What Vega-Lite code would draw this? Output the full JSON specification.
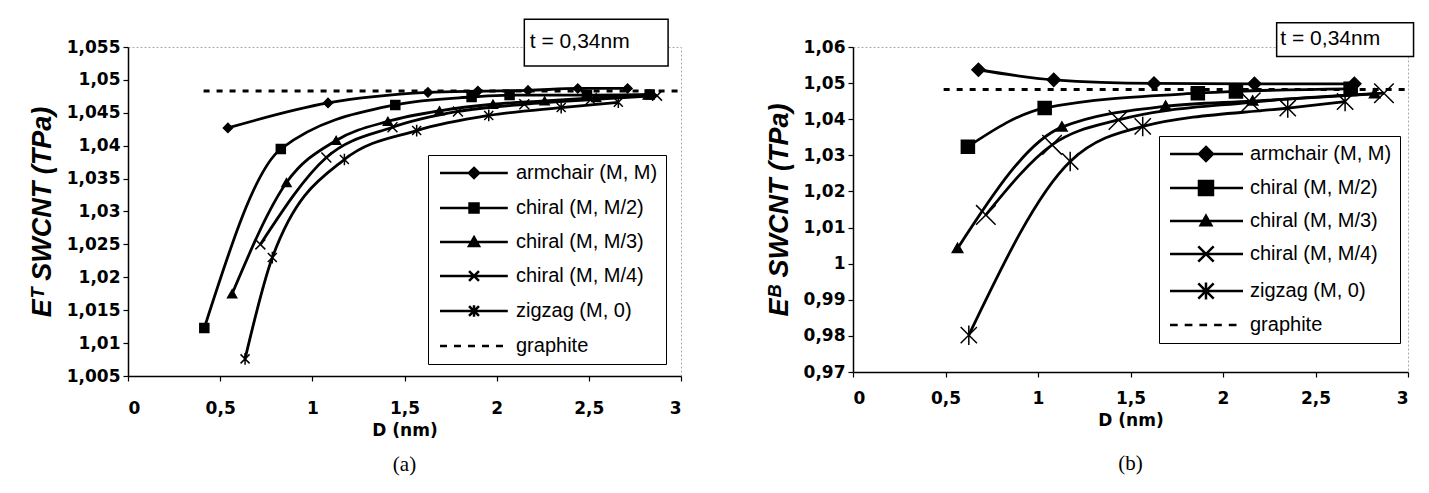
{
  "$schema": "https://vega.github.io/schema/vega-lite/v6.json",
  "padding": {"left": 27, "top": 18, "right": 5, "bottom": 5},
  "background": "white",
  "spacing": 76,
  "resolve": {"scale": {"shape": "independent"}, "legend": {"shape": "independent"}},
  "config": {
    "view": {"stroke": "#aaaaaa", "strokeWidth": 1, "strokeDash": [2, 2]},
    "axis": {
      "domainColor": "black", "domainWidth": 1.5, "tickColor": "black", "tickSize": 5, "tickWidth": 1.2,
      "labelFont": "DejaVu Sans", "labelFontSize": 17, "labelFontWeight": "bold", "labelColor": "black", "labelOverlap": false,
      "titleFont": "Liberation Sans", "titleColor": "black", "grid": false
    },
    "title": {"font": "Liberation Serif", "fontSize": 21, "fontWeight": "normal", "color": "black", "orient": "bottom"}
  },
  "datasets": {
    "a": [
      {"series": "armchair (M, M)", "D": 0.542, "E": 1.0427},
      {"series": "armchair (M, M)", "D": 1.085, "E": 1.0465},
      {"series": "armchair (M, M)", "D": 1.627, "E": 1.0481},
      {"series": "armchair (M, M)", "D": 1.898, "E": 1.0483},
      {"series": "armchair (M, M)", "D": 2.17, "E": 1.0484},
      {"series": "armchair (M, M)", "D": 2.44, "E": 1.0487},
      {"series": "armchair (M, M)", "D": 2.71, "E": 1.0487},
      {"series": "chiral (M, M/2)", "D": 0.414, "E": 1.0123},
      {"series": "chiral (M, M/2)", "D": 0.829, "E": 1.0395},
      {"series": "chiral (M, M/2)", "D": 1.45, "E": 1.0462},
      {"series": "chiral (M, M/2)", "D": 1.864, "E": 1.0474},
      {"series": "chiral (M, M/2)", "D": 2.07, "E": 1.0477},
      {"series": "chiral (M, M/2)", "D": 2.49, "E": 1.0477},
      {"series": "chiral (M, M/2)", "D": 2.83, "E": 1.0478},
      {"series": "chiral (M, M/3)", "D": 0.565, "E": 1.0175},
      {"series": "chiral (M, M/3)", "D": 0.86, "E": 1.0344},
      {"series": "chiral (M, M/3)", "D": 1.129, "E": 1.0408},
      {"series": "chiral (M, M/3)", "D": 1.41, "E": 1.0437},
      {"series": "chiral (M, M/3)", "D": 1.69, "E": 1.0453},
      {"series": "chiral (M, M/3)", "D": 1.98, "E": 1.0463},
      {"series": "chiral (M, M/3)", "D": 2.26, "E": 1.0468},
      {"series": "chiral (M, M/3)", "D": 2.54, "E": 1.0473},
      {"series": "chiral (M, M/3)", "D": 2.82, "E": 1.0477},
      {"series": "chiral (M, M/4)", "D": 0.718, "E": 1.025},
      {"series": "chiral (M, M/4)", "D": 1.076, "E": 1.0382},
      {"series": "chiral (M, M/4)", "D": 1.435, "E": 1.0428},
      {"series": "chiral (M, M/4)", "D": 1.79, "E": 1.0452},
      {"series": "chiral (M, M/4)", "D": 2.15, "E": 1.0463},
      {"series": "chiral (M, M/4)", "D": 2.51, "E": 1.047},
      {"series": "chiral (M, M/4)", "D": 2.87, "E": 1.0476},
      {"series": "zigzag (M, 0)", "D": 0.635, "E": 1.0076},
      {"series": "zigzag (M, 0)", "D": 0.783, "E": 1.023},
      {"series": "zigzag (M, 0)", "D": 1.174, "E": 1.0379},
      {"series": "zigzag (M, 0)", "D": 1.566, "E": 1.0423},
      {"series": "zigzag (M, 0)", "D": 1.957, "E": 1.0446},
      {"series": "zigzag (M, 0)", "D": 2.35, "E": 1.0458},
      {"series": "zigzag (M, 0)", "D": 2.66, "E": 1.0466},
      {"series": "graphite", "D": 0.41, "E": 1.0483},
      {"series": "graphite", "D": 3.0, "E": 1.0483}
    ],
    "b": [
      {"series": "armchair (M, M)", "D": 0.678, "E": 1.0537},
      {"series": "armchair (M, M)", "D": 1.085, "E": 1.0509},
      {"series": "armchair (M, M)", "D": 1.627, "E": 1.0499},
      {"series": "armchair (M, M)", "D": 2.17, "E": 1.0498},
      {"series": "armchair (M, M)", "D": 2.71, "E": 1.0498},
      {"series": "chiral (M, M/2)", "D": 0.621, "E": 1.0324},
      {"series": "chiral (M, M/2)", "D": 1.036, "E": 1.0431},
      {"series": "chiral (M, M/2)", "D": 1.864, "E": 1.0472},
      {"series": "chiral (M, M/2)", "D": 2.07, "E": 1.0477},
      {"series": "chiral (M, M/2)", "D": 2.69, "E": 1.0484},
      {"series": "chiral (M, M/3)", "D": 0.565, "E": 1.0042},
      {"series": "chiral (M, M/3)", "D": 1.129, "E": 1.0378},
      {"series": "chiral (M, M/3)", "D": 1.69, "E": 1.0436},
      {"series": "chiral (M, M/3)", "D": 2.16, "E": 1.045},
      {"series": "chiral (M, M/3)", "D": 2.82, "E": 1.047},
      {"series": "chiral (M, M/4)", "D": 0.718, "E": 1.0135},
      {"series": "chiral (M, M/4)", "D": 1.076, "E": 1.0329},
      {"series": "chiral (M, M/4)", "D": 1.435, "E": 1.0398},
      {"series": "chiral (M, M/4)", "D": 2.15, "E": 1.0447},
      {"series": "chiral (M, M/4)", "D": 2.87, "E": 1.0472},
      {"series": "zigzag (M, 0)", "D": 0.626, "E": 0.9802},
      {"series": "zigzag (M, 0)", "D": 1.174, "E": 1.0283},
      {"series": "zigzag (M, 0)", "D": 1.566, "E": 1.038},
      {"series": "zigzag (M, 0)", "D": 2.35, "E": 1.0431},
      {"series": "zigzag (M, 0)", "D": 2.66, "E": 1.0449},
      {"series": "graphite", "D": 0.49, "E": 1.0482},
      {"series": "graphite", "D": 3.0, "E": 1.0482}
    ],
    "ta": [{"label": "t = 0,34nm", "x1": 2.15, "x2": 2.93, "y1": 1.0521, "y2": 1.0592, "tx": 2.18, "ty": 1.0557}],
    "tb": [{"label": "t = 0,34nm", "x1": 2.29, "x2": 3.03, "y1": 1.0574, "y2": 1.0667, "tx": 2.31, "ty": 1.0621}]
  },
  "hconcat": [
    {
      "width": 553,
      "height": 329,
      "title": {"text": "(a)", "offset": 16},
      "resolve": {"scale": {"shape": "independent"}},
      "layer": [
        {
          "data": {"name": "a"},
          "transform": [{"filter": "datum.series !== 'graphite'"}],
          "mark": {"type": "line", "interpolate": "monotone", "strokeWidth": 2.8, "color": "black"},
          "encoding": {
            "x": {"field": "D", "type": "quantitative", "scale": {"domain": [0, 3], "nice": false, "zero": false},
                  "axis": {"values": [0, 0.5, 1, 1.5, 2, 2.5, 3], "tickCount": 30, "labelOverlap": false, "labelExpr": "replace(format(datum.value, '.1~f'), '.', ',')", "labelPadding": 19, "title": "D (nm)", "titleFont": "DejaVu Sans", "titleFontSize": 17, "titleFontWeight": "bold", "titlePadding": 6}},
            "y": {"field": "E", "type": "quantitative", "scale": {"domain": [1.005, 1.055], "nice": false, "zero": false},
                  "axis": {"values": [1.005, 1.01, 1.015, 1.02, 1.025, 1.03, 1.035, 1.04, 1.045, 1.05, 1.055], "tickCount": 30, "labelOverlap": false, "labelExpr": "replace(format(datum.value, '.3~f'), '.', ',')", "labelPadding": 3, "title": "Eᵀ SWCNT (TPa)", "titleFontSize": 27, "titleFontWeight": "bold", "titleFontStyle": "italic", "titlePadding": 10}},
            "detail": {"field": "series"}
          }
        },
        {
          "data": {"name": "a"},
          "transform": [{"filter": "datum.series === 'graphite'"}],
          "mark": {"type": "line", "strokeWidth": 3, "strokeDash": [6, 7], "color": "black"},
          "encoding": {
            "x": {"field": "D", "type": "quantitative"},
            "y": {"field": "E", "type": "quantitative"}
          }
        },
        {
          "data": {"name": "a"},
          "transform": [{"filter": "datum.series !== 'graphite'"}],
          "mark": {"type": "point", "filled": true, "fill": "black", "stroke": "black", "strokeWidth": 1.5, "size": 81, "opacity": 1},
          "encoding": {
            "x": {"field": "D", "type": "quantitative"},
            "y": {"field": "E", "type": "quantitative"},
            "shape": {
              "field": "series",
              "scale": {"domain": ["armchair (M, M)", "chiral (M, M/2)", "chiral (M, M/3)", "chiral (M, M/4)", "zigzag (M, 0)", "graphite"],
                        "range": ["diamond", "square", "triangle-up", "M-1.1,-1.1L1.1,1.1M1.1,-1.1L-1.1,1.1", "M-1,-1L1,1M1,-1L-1,1M0,-1.3L0,1.3", "circle"]},
              "legend": null
            }
          }
        },
        {
          "data": {"name": "a"},
          "transform": [{"filter": "datum.D < 1"}],
          "mark": {"type": "point", "filled": false, "color": "black", "strokeWidth": 2.5, "size": 144, "opacity": 0},
          "encoding": {
            "x": {"field": "D", "type": "quantitative"},
            "y": {"field": "E", "type": "quantitative"},
            "shape": {
              "field": "series",
              "scale": {"domain": ["armchair (M, M)", "chiral (M, M/2)", "chiral (M, M/3)", "chiral (M, M/4)", "zigzag (M, 0)", "graphite"],
                        "range": [
                          "M-1,0H10.3M4.67,-0.85L5.52,0L4.67,0.85L3.82,0ZM4.67,-0.45L5.12,0L4.67,0.45L4.22,0ZM4.67,-0.2V0.2",
                          "M-1,0H10.3M3.92,-0.75H5.42V0.75H3.92ZM4.32,-0.35H5.02V0.35H4.32ZM4.57,-0.1H4.77V0.1H4.57Z",
                          "M-1,0H10.3M4.67,-0.8L5.5,0.65H3.84ZM4.67,-0.3L5.05,0.35H4.29Z",
                          "M-1,0H10.3M3.84,-0.83L5.5,0.83M5.5,-0.83L3.84,0.83",
                          "M-1,0H10.3M3.84,-0.83L5.5,0.83M5.5,-0.83L3.84,0.83M4.67,-0.95V0.95",
                          "M-1,0H0.17M1.33,0H2.5M3.67,0H4.83M6,0H7.17M8.33,0H9.5"
                        ]},
              "legend": {
                "title": null, "orient": "none", "legendX": 300, "legendY": 108,
                "symbolSize": 144, "symbolStrokeColor": "black", "symbolStrokeWidth": 2.5, "symbolOpacity": 1,
                "labelFont": "Liberation Sans", "labelFontSize": 20, "labelColor": "black", "labelOffset": 60, "labelLimit": 300,
                "rowPadding": 14, "padding": 8, "strokeColor": "black", "fillColor": "white"
              }
            }
          }
        },
        {
          "data": {"name": "ta"},
          "mark": {"type": "rect", "fill": "white", "stroke": "black", "strokeWidth": 1.5},
          "encoding": {
            "x": {"field": "x1", "type": "quantitative"}, "x2": {"field": "x2"},
            "y": {"field": "y1", "type": "quantitative"}, "y2": {"field": "y2"}
          }
        },
        {
          "data": {"name": "ta"},
          "mark": {"type": "text", "align": "left", "baseline": "middle", "font": "Liberation Sans", "fontSize": 21, "color": "black"},
          "encoding": {
            "x": {"field": "tx", "type": "quantitative"},
            "y": {"field": "ty", "type": "quantitative"},
            "text": {"field": "label"}
          }
        }
      ]
    },
    {
      "width": 555,
      "height": 325,
      "title": {"text": "(b)", "offset": 25},
      "resolve": {"scale": {"shape": "independent"}},
      "layer": [
        {
          "data": {"name": "b"},
          "transform": [{"filter": "datum.series !== 'graphite'"}],
          "mark": {"type": "line", "interpolate": "monotone", "strokeWidth": 2.8, "color": "black"},
          "encoding": {
            "x": {"field": "D", "type": "quantitative", "scale": {"domain": [0, 3], "nice": false, "zero": false},
                  "axis": {"values": [0, 0.5, 1, 1.5, 2, 2.5, 3], "tickCount": 30, "labelOverlap": false, "labelExpr": "replace(format(datum.value, '.1~f'), '.', ',')", "labelPadding": 13, "title": "D (nm)", "titleFont": "DejaVu Sans", "titleFontSize": 17, "titleFontWeight": "bold", "titlePadding": 6}},
            "y": {"field": "E", "type": "quantitative", "scale": {"domain": [0.97, 1.06], "nice": false, "zero": false},
                  "axis": {"values": [0.97, 0.98, 0.99, 1, 1.01, 1.02, 1.03, 1.04, 1.05, 1.06], "tickCount": 30, "labelOverlap": false, "labelExpr": "replace(format(datum.value, '.2~f'), '.', ',')", "labelPadding": 3, "title": "Eᴮ SWCNT (TPa)", "titleFontSize": 27, "titleFontWeight": "bold", "titleFontStyle": "italic", "titlePadding": 10}},
            "detail": {"field": "series"}
          }
        },
        {
          "data": {"name": "b"},
          "transform": [{"filter": "datum.series === 'graphite'"}],
          "mark": {"type": "line", "strokeWidth": 3, "strokeDash": [6, 7], "color": "black"},
          "encoding": {
            "x": {"field": "D", "type": "quantitative"},
            "y": {"field": "E", "type": "quantitative"}
          }
        },
        {
          "data": {"name": "b"},
          "transform": [{"filter": "datum.series !== 'graphite'"}],
          "mark": {"type": "point", "filled": true, "fill": "black", "stroke": "black", "strokeWidth": 1.5, "size": 170, "opacity": 1},
          "encoding": {
            "x": {"field": "D", "type": "quantitative"},
            "y": {"field": "E", "type": "quantitative"},
            "shape": {
              "field": "series",
              "scale": {"domain": ["armchair (M, M)", "chiral (M, M/2)", "chiral (M, M/3)", "chiral (M, M/4)", "zigzag (M, 0)", "graphite"],
                        "range": ["diamond", "square", "M0,-0.8L0.8,0.6H-0.8Z", "M-1.5,-1.5L1.5,1.5M1.5,-1.5L-1.5,1.5", "M-1.25,-1.25L1.25,1.25M1.25,-1.25L-1.25,1.25M0,-1.5L0,1.5", "circle"]},
              "legend": null
            }
          }
        },
        {
          "data": {"name": "b"},
          "transform": [{"filter": "datum.D < 1"}],
          "mark": {"type": "point", "filled": false, "color": "black", "strokeWidth": 2.5, "size": 196, "opacity": 0},
          "encoding": {
            "x": {"field": "D", "type": "quantitative"},
            "y": {"field": "E", "type": "quantitative"},
            "shape": {
              "field": "series",
              "scale": {"domain": ["armchair (M, M)", "chiral (M, M/2)", "chiral (M, M/3)", "chiral (M, M/4)", "zigzag (M, 0)", "graphite"],
                        "range": [
                          "M-1,0H9.43M4.14,-1L5.14,0L4.14,1L3.14,0ZM4.14,-0.62L4.76,0L4.14,0.62L3.52,0ZM4.14,-0.28L4.42,0L4.14,0.28L3.86,0Z",
                          "M-1,0H9.43M3.14,-1H5.14V1H3.14ZM3.48,-0.66H4.8V0.66H3.48ZM3.82,-0.32H4.46V0.32H3.82ZM4.04,-0.08H4.24V0.08H4.04Z",
                          "M-1,0H9.43M4.14,-0.75L4.9,0.6H3.38ZM4.14,-0.25L4.45,0.3H3.83Z",
                          "M-1,0H9.43M3.04,-1.1L5.24,1.1M5.24,-1.1L3.04,1.1",
                          "M-1,0H9.43M3.04,-1.1L5.24,1.1M5.24,-1.1L3.04,1.1M4.14,-1.2V1.2",
                          "M-1,0H0.1M1.1,0H2.2M3.2,0H4.3M5.3,0H6.4M7.4,0H8.5"
                        ]},
              "legend": {
                "title": null, "orient": "none", "legendX": 306, "legendY": 89,
                "symbolSize": 196, "symbolStrokeColor": "black", "symbolStrokeWidth": 2.5, "symbolOpacity": 1,
                "labelFont": "Liberation Sans", "labelFontSize": 20, "labelColor": "black", "labelOffset": 63, "labelLimit": 300,
                "rowPadding": 10, "padding": 8, "strokeColor": "black", "fillColor": "white"
              }
            }
          }
        },
        {
          "data": {"name": "tb"},
          "mark": {"type": "rect", "fill": "white", "stroke": "black", "strokeWidth": 1.5},
          "encoding": {
            "x": {"field": "x1", "type": "quantitative"}, "x2": {"field": "x2"},
            "y": {"field": "y1", "type": "quantitative"}, "y2": {"field": "y2"}
          }
        },
        {
          "data": {"name": "tb"},
          "mark": {"type": "text", "align": "left", "baseline": "middle", "font": "Liberation Sans", "fontSize": 21, "color": "black"},
          "encoding": {
            "x": {"field": "tx", "type": "quantitative"},
            "y": {"field": "ty", "type": "quantitative"},
            "text": {"field": "label"}
          }
        }
      ]
    }
  ]
}
